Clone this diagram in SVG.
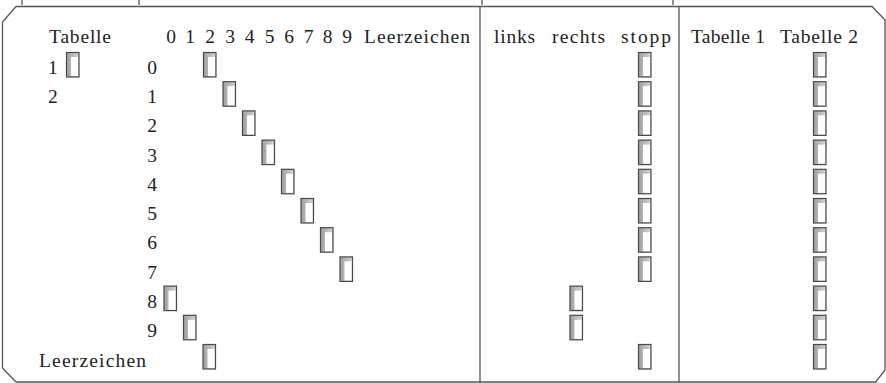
<svg xmlns="http://www.w3.org/2000/svg" xmlns:xlink="http://www.w3.org/1999/xlink" width="886" height="383" viewBox="0 0 886 383">
<style>
text{font-family:"Liberation Serif","Times New Roman",serif;font-size:19.5px;fill:#222}
.ln{fill:none;stroke:#555;stroke-width:1.3}
.m{text-anchor:middle}
</style>
<defs>
<linearGradient id="gs" x1="0" y1="0" x2="1" y2="0">
<stop offset="0" stop-color="#a0a0a0"/><stop offset="1" stop-color="#d4d4d4"/>
</linearGradient>
<g id="key">
<rect x="0.5" y="0.5" width="12.5" height="24.5" fill="url(#gs)" stroke="#4a4a4a" stroke-width="1.2"/>
<rect x="5" y="5" width="7" height="19" fill="#fff"/>
</g>
</defs>
<rect width="886" height="383" fill="#fff"/>
<g id="frame">
<path class="ln" d="M16 6.5 H872 L885 20 V370 L875 383 M16 382 H875 M16 6.5 L2.5 22 V368 L16 382"/>
<path class="ln" d="M480 6.5 V382 M679 6.5 V382"/>
<path class="ln" d="M22 0 V5 M139 0 V5 M482 0 V5 M673 0 V5"/>
</g>
<g id="tabelle">
<text x="49" y="43" textLength="62">Tabelle</text>
<text x="48" y="74">1</text>
<text x="48" y="103">2</text>
<use xlink:href="#key" x="66" y="52"/>
</g>
<g id="matrix">
<g class="m">
<text x="171" y="43">0</text><text x="190" y="43">1</text><text x="210" y="43">2</text><text x="230" y="43">3</text><text x="249.5" y="43">4</text><text x="269.5" y="43">5</text><text x="289" y="43">6</text><text x="308.5" y="43">7</text><text x="327.5" y="43">8</text><text x="347" y="43">9</text>
</g>
<text x="364" y="43" textLength="106">Leerzeichen</text>
<g class="m">
<text x="152" y="74">0</text><text x="152" y="103">1</text><text x="152" y="132">2</text><text x="152" y="161.5">3</text><text x="152" y="190.5">4</text><text x="152" y="220">5</text><text x="152" y="249">6</text><text x="152" y="278.5">7</text><text x="152" y="307.5">8</text><text x="152" y="337">9</text>
</g>
<text x="39" y="367" textLength="107">Leerzeichen</text>
<use xlink:href="#key" x="203" y="52"/>
<use xlink:href="#key" x="222.5" y="81.2"/>
<use xlink:href="#key" x="242" y="110.4"/>
<use xlink:href="#key" x="261.5" y="139.6"/>
<use xlink:href="#key" x="281" y="168.8"/>
<use xlink:href="#key" x="300.5" y="198"/>
<use xlink:href="#key" x="320" y="227.2"/>
<use xlink:href="#key" x="339.5" y="256.4"/>
<use xlink:href="#key" x="163.5" y="285.6"/>
<use xlink:href="#key" x="183" y="314.8"/>
<use xlink:href="#key" x="202.5" y="344"/>
</g>
<g id="richtung">
<text x="494" y="43" textLength="41">links</text>
<text x="552" y="43" textLength="53">rechts</text>
<text x="621" y="43" textLength="50">stopp</text>
<use xlink:href="#key" x="638" y="52"/>
<use xlink:href="#key" x="638" y="81.2"/>
<use xlink:href="#key" x="638" y="110.4"/>
<use xlink:href="#key" x="638" y="139.6"/>
<use xlink:href="#key" x="638" y="168.8"/>
<use xlink:href="#key" x="638" y="198"/>
<use xlink:href="#key" x="638" y="227.2"/>
<use xlink:href="#key" x="638" y="256.4"/>
<use xlink:href="#key" x="569.5" y="285.6"/>
<use xlink:href="#key" x="569.5" y="314.8"/>
<use xlink:href="#key" x="638" y="344"/>
</g>
<g id="tabellen">
<text x="691" y="43" textLength="74">Tabelle 1</text>
<text x="780" y="43" textLength="78">Tabelle 2</text>
<use xlink:href="#key" x="813" y="52"/>
<use xlink:href="#key" x="813" y="81.2"/>
<use xlink:href="#key" x="813" y="110.4"/>
<use xlink:href="#key" x="813" y="139.6"/>
<use xlink:href="#key" x="813" y="168.8"/>
<use xlink:href="#key" x="813" y="198"/>
<use xlink:href="#key" x="813" y="227.2"/>
<use xlink:href="#key" x="813" y="256.4"/>
<use xlink:href="#key" x="813" y="285.6"/>
<use xlink:href="#key" x="813" y="314.8"/>
<use xlink:href="#key" x="813" y="344"/>
</g>
</svg>
